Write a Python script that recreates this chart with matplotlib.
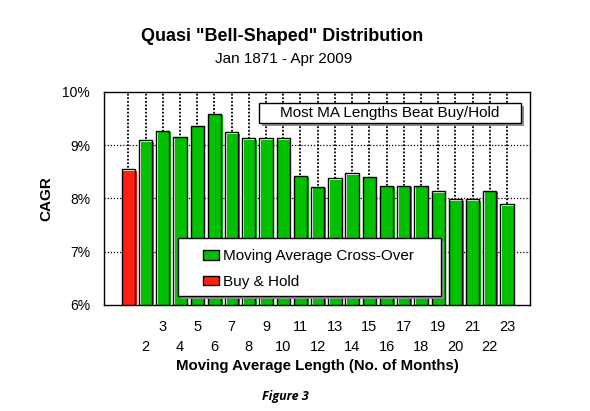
import matplotlib
matplotlib.use("Agg")
import matplotlib.pyplot as plt
from matplotlib.patches import Patch, Rectangle

plt.rcParams['font.family'] = ['Liberation Sans', 'DejaVu Sans']

# data (CAGR, %)
buy_hold = 8.55
ma_lengths = list(range(2, 24))
ma_cagr = [9.09, 9.27, 9.16, 9.37, 9.59, 9.25, 9.13, 9.13, 9.13, 8.43, 8.22,
           8.38, 8.47, 8.41, 8.24, 8.24, 8.24, 8.14, 7.99, 7.99, 8.15, 7.89]
y_ticks = [6, 7, 8, 9, 10]

green = '#00c000'
red = '#ff2010'
base = 6.0
w = 0.77
dx = 0.09   # offset of the fill "shadow"
dy = 0.03

fig = plt.figure(figsize=(5.9, 4.11), dpi=100)
ax = fig.add_axes([104 / 590, 1 - 305 / 411, 426 / 590, 213 / 411])

xs = [1] + ma_lengths
vals = [buy_hold] + ma_cagr
cols = [red] + [green] * len(ma_cagr)

heights = [v - base for v in vals]
# white body, offset colour fill, then the black outline on top
ax.bar(xs, heights, width=w, bottom=base, color='white', edgecolor='none', zorder=2)
ax.bar([x + dx for x in xs], [h - dy + 0.1 for h in heights], width=w,
       bottom=base - 0.1, color=cols, edgecolor='none', zorder=3)
ax.bar(xs, heights, width=w, bottom=base, facecolor='none', edgecolor='black',
       linewidth=1.0, zorder=4)

ax.set_xlim(-0.42, 24.34)
ax.set_ylim(6, 10)
ax.set_yticks(y_ticks)
ax.set_yticklabels([f"{t}%" for t in y_ticks], fontsize=10)

# grid lines
for x in xs:
    ax.axvline(x, color='black', linestyle=(0, (1, 1)), linewidth=1.3, zorder=1)
for y in y_ticks[1:-1]:
    ax.axhline(y, color='black', linestyle=(0, (1, 1.5)), linewidth=0.9, zorder=1)

# x labels in two staggered rows
evens = [n for n in ma_lengths if n % 2 == 0]
odds = [n for n in ma_lengths if n % 2 == 1]
ax.set_xticks(evens)
ax.set_xticklabels([str(n) for n in evens], fontsize=10.5)
ax.set_xticks(odds, minor=True)
ax.set_xticklabels([str(n) for n in odds], minor=True, fontsize=10.5)
ax.tick_params(axis='x', which='major', length=0, pad=25)
ax.tick_params(axis='x', which='minor', length=0, pad=11)
ax.tick_params(axis='y', length=0, pad=10)

for s in ax.spines.values():
    s.set_linewidth(1.0)

ax.set_xlabel("Moving Average Length (No. of Months)", fontsize=10.8,
              fontweight='bold', labelpad=4)
fig.text(0.078, 0.5 * ((1 - 305 / 411) + (1 - 92 / 411)), "CAGR", rotation=90,
         fontsize=11, fontweight='bold', ha='center', va='center')

fig.text(0.479, 0.911, 'Quasi "Bell-Shaped" Distribution', fontsize=13,
         fontweight='bold', ha='center', va='center')
fig.text(0.481, 0.856, "Jan 1871 - Apr 2009", fontsize=11, ha='center', va='center')
fig.text(0.483, 0.035, "Figure 3", fontsize=9, fontweight='bold', style='italic',
         ha='center', va='center', family=['Open Sans', 'DejaVu Sans'])

# annotation box with shadow
bx0, bx1 = (259 - 104) / 426, (521 - 104) / 426
by0, by1 = (305 - 123) / 213, (305 - 103) / 213
ax.add_patch(Rectangle((bx0 + 0.008, by0 - 0.014), bx1 - bx0, by1 - by0,
                       transform=ax.transAxes, facecolor='#909090',
                       edgecolor='none', zorder=5))
ax.add_patch(Rectangle((bx0, by0), bx1 - bx0, by1 - by0, transform=ax.transAxes,
                       facecolor='white', edgecolor='black', linewidth=1.0, zorder=6))
ax.text((bx0 + bx1) / 2, (by0 + by1) / 2, "Most MA Lengths Beat Buy/Hold",
        transform=ax.transAxes, fontsize=11, ha='center', va='center', zorder=7)

# legend box with shadow
lx0, lx1 = (178 - 104) / 426, (441 - 104) / 426
ly0, ly1 = (305 - 296) / 213, (305 - 238) / 213
ax.add_patch(Rectangle((lx0 + 0.008, ly0 - 0.014), lx1 - lx0, ly1 - ly0,
                       transform=ax.transAxes, facecolor='#909090',
                       edgecolor='none', zorder=5))
ax.add_patch(Rectangle((lx0, ly0), lx1 - lx0, ly1 - ly0, transform=ax.transAxes,
                       facecolor='white', edgecolor='black', linewidth=1.0, zorder=6))
handles = [Patch(facecolor=green, edgecolor='black', linewidth=1.0),
           Patch(facecolor=red, edgecolor='black', linewidth=1.0)]
leg = ax.legend(handles, ["Moving Average Cross-Over", "Buy & Hold"],
                loc='upper left', bbox_to_anchor=(lx0 + 0.045, ly1 - 0.025),
                frameon=False, fontsize=11, handlelength=1.0, handleheight=0.55,
                handletextpad=0.3, labelspacing=0.75, borderaxespad=0)
leg.set_zorder(8)

fig.savefig("out.png", dpi=100)
